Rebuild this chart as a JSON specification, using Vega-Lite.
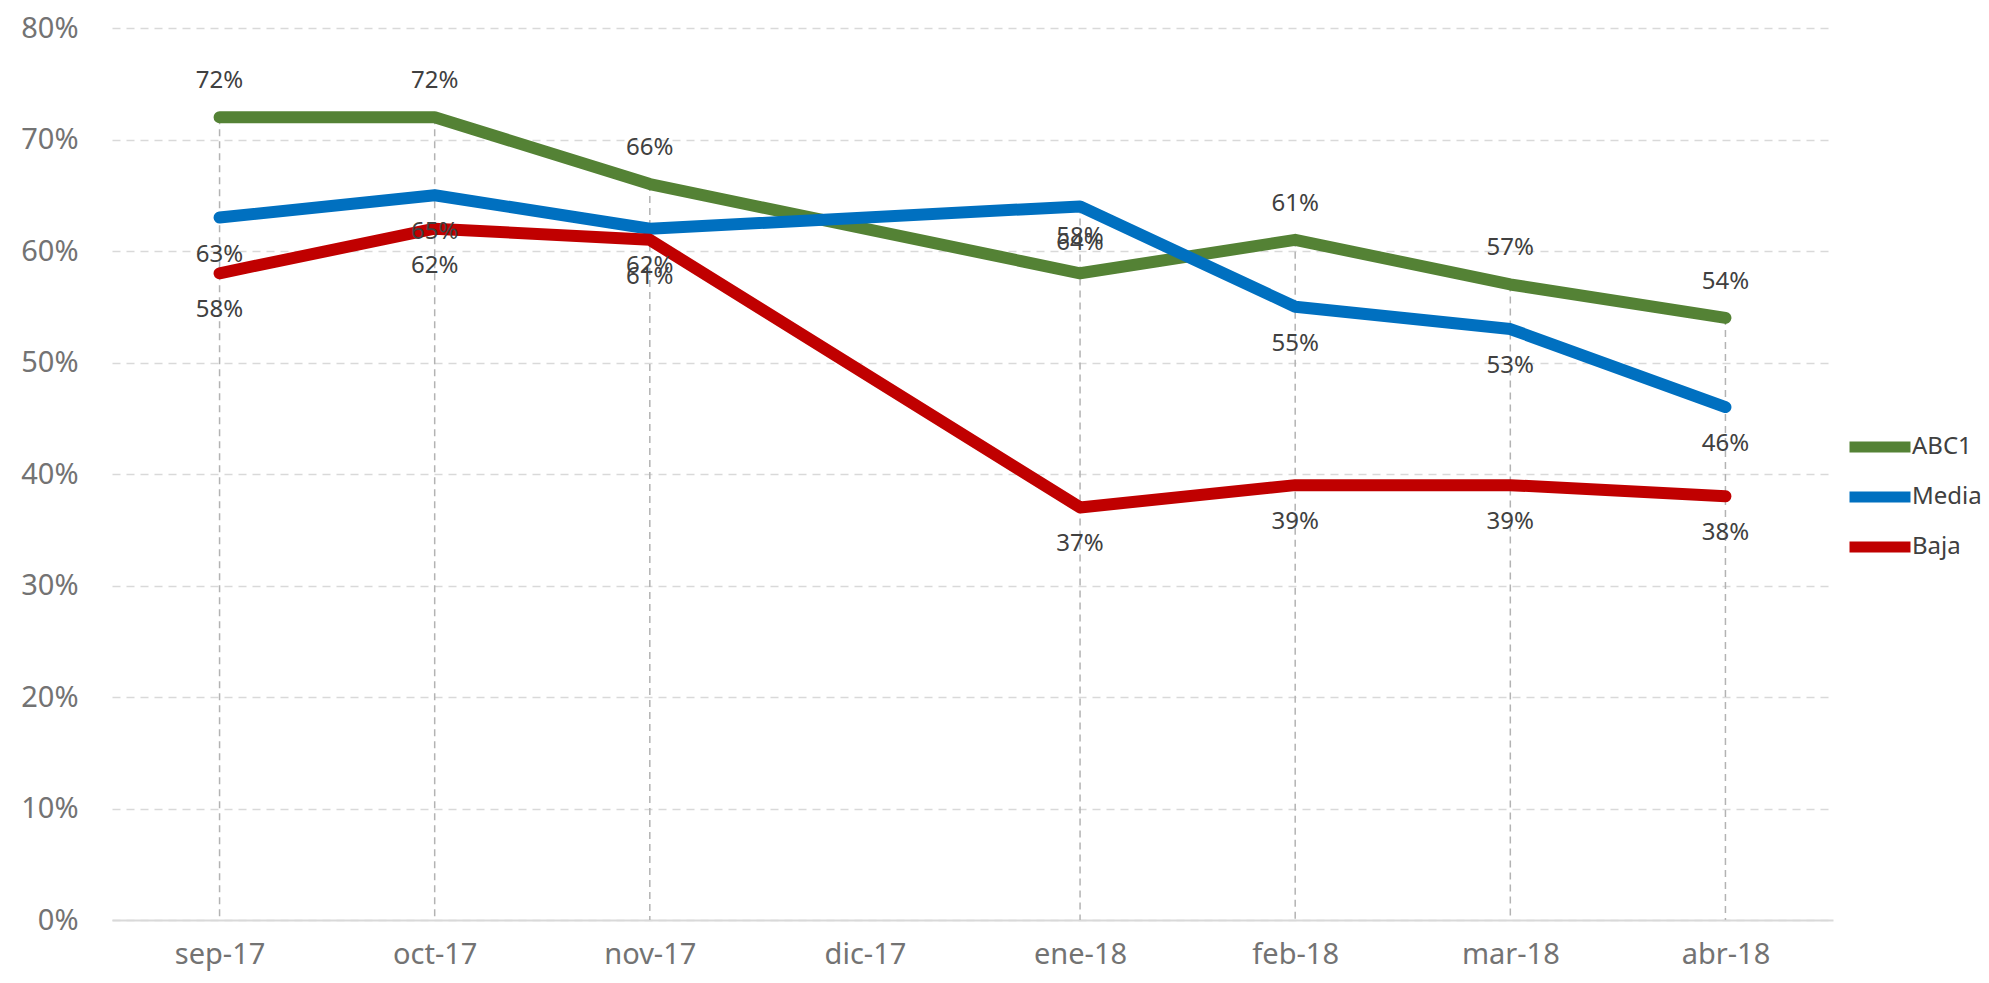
{
  "$schema": "https://vega.github.io/schema/vega-lite/v6.json",
  "autosize": {"type": "none"},
  "width": 1721,
  "height": 892,
  "padding": {"left": 112, "top": 28, "right": 156, "bottom": 63},
  "background": "white",
  "config": {
    "view": {"stroke": null},
    "font": "Noto Sans"
  },
  "data": {
    "values": [
      {"mes": "sep-17", "serie": "ABC1", "valor": 0.72},
      {"mes": "oct-17", "serie": "ABC1", "valor": 0.72},
      {"mes": "nov-17", "serie": "ABC1", "valor": 0.66},
      {"mes": "ene-18", "serie": "ABC1", "valor": 0.58},
      {"mes": "feb-18", "serie": "ABC1", "valor": 0.61},
      {"mes": "mar-18", "serie": "ABC1", "valor": 0.57},
      {"mes": "abr-18", "serie": "ABC1", "valor": 0.54},
      {"mes": "sep-17", "serie": "Media", "valor": 0.63},
      {"mes": "oct-17", "serie": "Media", "valor": 0.65},
      {"mes": "nov-17", "serie": "Media", "valor": 0.62},
      {"mes": "ene-18", "serie": "Media", "valor": 0.64},
      {"mes": "feb-18", "serie": "Media", "valor": 0.55},
      {"mes": "mar-18", "serie": "Media", "valor": 0.53},
      {"mes": "abr-18", "serie": "Media", "valor": 0.46},
      {"mes": "sep-17", "serie": "Baja", "valor": 0.58},
      {"mes": "oct-17", "serie": "Baja", "valor": 0.62},
      {"mes": "nov-17", "serie": "Baja", "valor": 0.61},
      {"mes": "ene-18", "serie": "Baja", "valor": 0.37},
      {"mes": "feb-18", "serie": "Baja", "valor": 0.39},
      {"mes": "mar-18", "serie": "Baja", "valor": 0.39},
      {"mes": "abr-18", "serie": "Baja", "valor": 0.38}
    ]
  },
  "encoding": {
    "x": {
      "field": "mes",
      "type": "ordinal",
      "scale": {
        "type": "point",
        "padding": 0.5,
        "domain": ["sep-17", "oct-17", "nov-17", "dic-17", "ene-18", "feb-18", "mar-18", "abr-18"]
      },
      "axis": {
        "title": null,
        "labelAngle": 0,
        "labelFontSize": 29,
        "labelColor": "#737373",
        "labelPadding": 20,
        "ticks": false,
        "grid": false,
        "domainColor": "#d9d9d9",
        "domainWidth": 2
      }
    }
  },
  "layer": [
    {
      "transform": [
        {"aggregate": [{"op": "max", "field": "valor", "as": "maximo"}], "groupby": ["mes"]}
      ],
      "mark": {"type": "rule", "stroke": "#b3b3b3", "strokeWidth": 1.5, "strokeDash": [7, 5]},
      "encoding": {
        "y": {
          "field": "maximo",
          "type": "quantitative",
          "scale": {"domain": [0, 0.8]},
          "axis": {
            "title": null,
            "format": ".0%",
            "values": [0, 0.1, 0.2, 0.3, 0.4, 0.5, 0.6, 0.7, 0.8],
            "labelFontSize": 29,
            "labelColor": "#737373",
            "labelPadding": 34,
            "ticks": false,
            "domain": false,
            "gridColor": "#d9d9d9",
            "gridWidth": 1.5,
            "gridDash": [8, 6]
          }
        },
        "y2": {"datum": 0}
      }
    },
    {
      "mark": {"type": "line", "strokeWidth": 12, "strokeCap": "round", "strokeJoin": "round"},
      "encoding": {
        "y": {"field": "valor", "type": "quantitative"},
        "color": {
          "field": "serie",
          "type": "nominal",
          "scale": {"domain": ["ABC1", "Media", "Baja"], "range": ["#548235", "#0070C0", "#C00000"]},
          "legend": {
            "title": null,
            "orient": "none",
            "legendX": 1747,
            "legendY": 398,
            "symbolType": "M-2,0H2",
            "symbolSize": 930,
            "symbolStrokeWidth": 11,
            "labelFontSize": 24,
            "labelColor": "#404040",
            "labelOffset": 11,
            "rowPadding": 6
          }
        }
      }
    },
    {
      "transform": [{"filter": "datum.serie === 'ABC1'"}],
      "mark": {"type": "text", "dy": -36, "fontSize": 24, "color": "#404040", "baseline": "middle"},
      "encoding": {
        "y": {"field": "valor", "type": "quantitative"},
        "text": {"field": "valor", "type": "quantitative", "format": ".0%"}
      }
    },
    {
      "transform": [{"filter": "datum.serie !== 'ABC1'"}],
      "mark": {"type": "text", "dy": 37, "fontSize": 24, "color": "#404040", "baseline": "middle"},
      "encoding": {
        "y": {"field": "valor", "type": "quantitative"},
        "text": {"field": "valor", "type": "quantitative", "format": ".0%"}
      }
    }
  ]
}
